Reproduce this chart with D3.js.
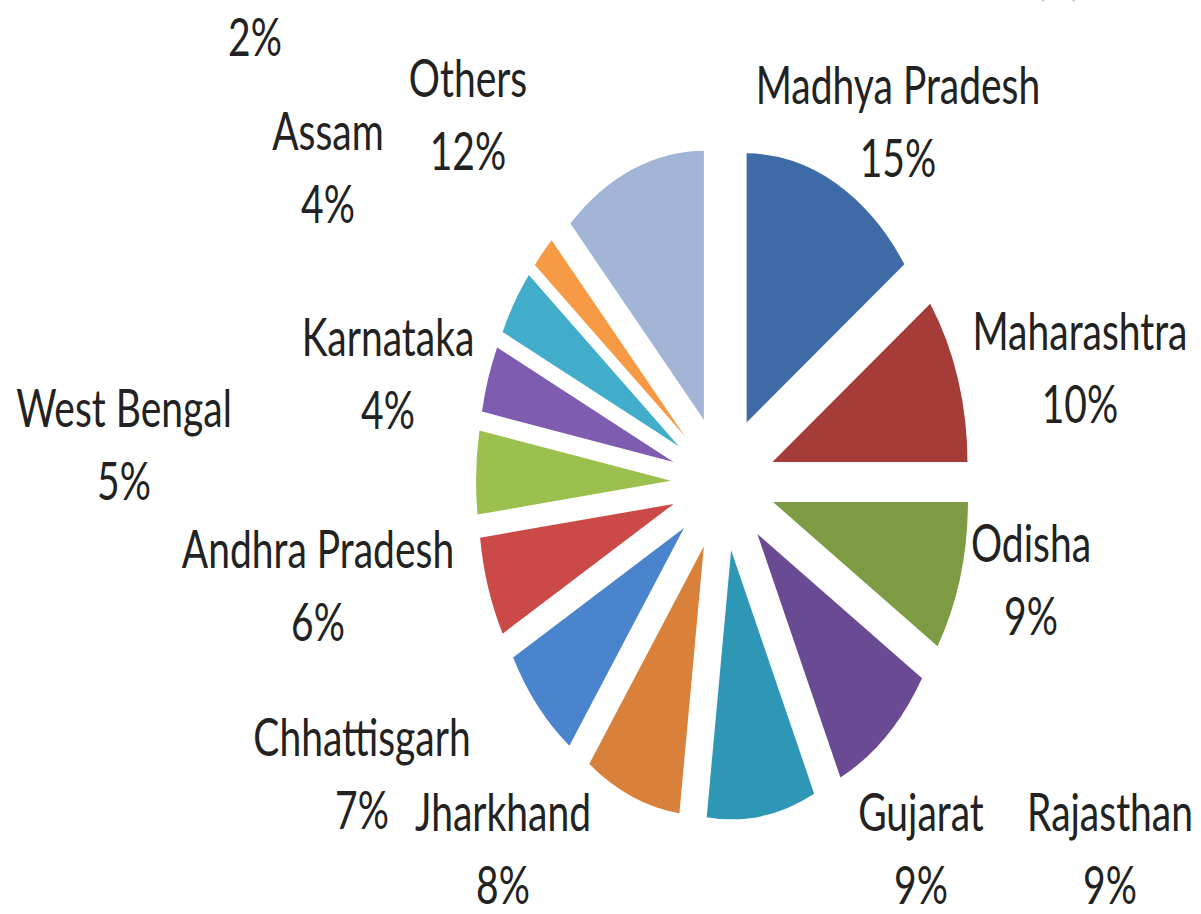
<!DOCTYPE html>
<html>
<head>
<meta charset="utf-8">
<script src="https://cdn.jsdelivr.net/npm/d3@7/dist/d3.min.js"></script>
<style>
    html, body { margin: 0; padding: 0; background: #fff; }
    text { font-family: "Lato", "Open Sans", sans-serif; fill: #222; }
</style>
</head>
<body>
<svg id="chart"></svg>
<script>
// data
const states = ['Madhya Pradesh', 'Maharashtra', 'Odisha', 'Rajasthan', 'Gujarat', 'Jharkhand',
    'Chhattisgarh', 'Andhra Pradesh', 'West Bengal', 'Karnataka', 'Assam', 'Meghalaya', 'Others'];
const shares = [15, 10, 9, 9, 9, 8, 7, 6, 5, 4, 4, 2, 12];
const colors = ['#3e6ba5', '#a63c38', '#7c9b42', '#6a4a92', '#2f97b6', '#d9813a',
    '#4a84cc', '#cb4a47', '#9cc04f', '#7e5caf', '#42adcb', '#f79a45', '#a3b5d6'];
const title = 'Distribution of Scheduled Tribes across States (%)';

// label placement (centre x, baseline of first line), as Excel left them
const labelPos = [[898, 104], [1080, 350], [1031, 562], [1110, 831], [921, 831], [503, 831],
    [362, 756], [318, 568], [124, 427], [388, 356], [328, 150], [255, -17], [468, 97]];

const width = 1201,
    height = 914,
    tau = 2 * Math.PI;

// pie geometry: the picture is stretched vertically
const cx = 723,
    cy = 483,
    radius = 195,
    stretch = 1.38,
    explodeX = 52,
    explodeY = 68;

const fontSize = 39,
    textStretch = 1.32,
    lineGap = 73;

const svg = d3.select('#chart')
    .attr('width', width)
    .attr('height', height);

svg.append('rect')
    .attr('width', width)
    .attr('height', height)
    .attr('fill', '#fff');

const pie = d3.pie()
    .sort(null)
    .startAngle(0)
    .endAngle(tau)
    .value(d => d);

const arc = d3.arc()
    .innerRadius(0)
    .outerRadius(radius);

const slices = pie(shares);

// exploded slices
svg.append('g')
    .selectAll('path')
    .data(slices)
    .join('path')
    .attr('transform', d => {
        let mid = (d.startAngle + d.endAngle) / 2;
        let x = cx + explodeX * Math.sin(mid);
        let y = cy - explodeY * Math.cos(mid);
        return 'translate(' + x + ',' + y + ') scale(1,' + stretch + ')';
    })
    .attr('fill', (d, i) => colors[i])
    .attr('d', arc);

// title, almost all of it above the top edge
svg.append('text')
    .attr('text-anchor', 'middle')
    .attr('transform', 'translate(730,-6) scale(1,' + textStretch + ')')
    .attr('font-size', fontSize)
    .attr('textLength', 700)
    .attr('lengthAdjust', 'spacingAndGlyphs')
    .style('fill', '#b5b5b5')
    .text(title);

// data labels: name on the first line, share on the second
const labels = svg.append('g')
    .selectAll('g')
    .data(slices)
    .join('g')
    .attr('transform', (d, i) => 'translate(' + labelPos[i][0] + ',' + labelPos[i][1] + ')');

labels.append('text')
    .attr('text-anchor', 'middle')
    .attr('font-size', fontSize)
    .attr('transform', 'scale(1,' + textStretch + ')')
    .text((d, i) => states[i]);

labels.append('text')
    .attr('text-anchor', 'middle')
    .attr('font-size', fontSize)
    .attr('transform', 'translate(0,' + lineGap + ') scale(1,' + textStretch + ')')
    .text(d => d.value + '%');
</script>
</body>
</html>
